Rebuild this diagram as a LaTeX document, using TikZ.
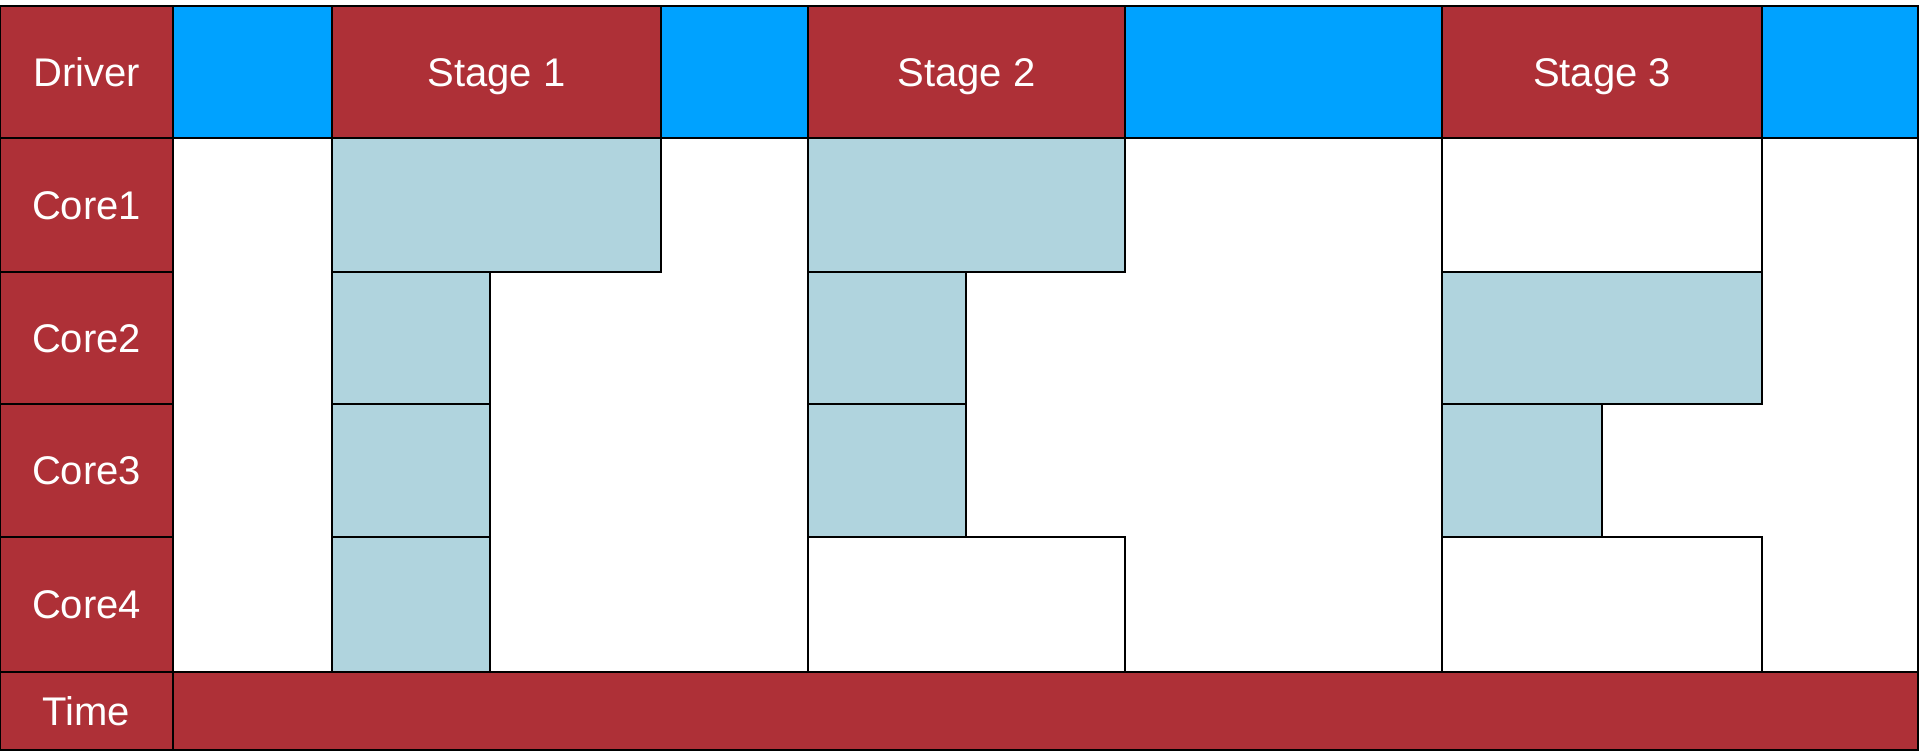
\documentclass[tikz,border=0pt]{standalone}
\usepackage{fontspec}
\setmainfont{Liberation Sans}
\definecolor{sred}{HTML}{AE3037}
\definecolor{sblue}{HTML}{00A2FF}
\definecolor{task}{HTML}{B0D4DE}
\newcommand\cellbox[7]{\node[#2,minimum width={#5-#3},minimum height={#6-#4}] (#1) at (#3,#4) {#7};}
\begin{document}
\begin{tikzpicture}[x=1pt,y=-1pt,
  cell/.style={draw=black,line width=2pt,inner sep=0pt,outer sep=0pt,anchor=north west,
    font=\fontsize{40}{46}\selectfont,text=white,text height=28.6pt,text depth=0pt},
  lab/.style={cell,fill=sred},
  drv/.style={cell,fill=sblue},
  busy/.style={cell,fill=task},
  idle/.style={cell,fill=white}]
\useasboundingbox (0,0) rectangle (1920,752);
\fill[white] (0,0) rectangle (1920,752);
% label column
\cellbox{ldriver}{lab}{0}{6}{173}{138}{Driver}
\cellbox{lcore1}{lab}{0}{138}{173}{272}{Core1}
\cellbox{lcore2}{lab}{0}{272}{173}{404}{Core2}
\cellbox{lcore3}{lab}{0}{404}{173}{537}{Core3}
\cellbox{lcore4}{lab}{0}{537}{173}{672}{Core4}
\cellbox{ltime}{lab}{0}{672}{173}{750}{Time}
% empty core area frame
\cellbox{area}{idle}{173}{138}{1918}{672}{}
% driver row
\cellbox{d0}{drv}{173}{6}{332}{138}{}
\cellbox{s1}{lab}{332}{6}{661}{138}{Stage 1}
\cellbox{d1}{drv}{661}{6}{808}{138}{}
\cellbox{s2}{lab}{808}{6}{1125}{138}{Stage 2}
\cellbox{d2}{drv}{1125}{6}{1442}{138}{}
\cellbox{s3}{lab}{1442}{6}{1762}{138}{Stage 3}
\cellbox{d3}{drv}{1762}{6}{1918}{138}{}
% stage 1 tasks
\cellbox{a1}{busy}{332}{138}{661}{272}{}
\cellbox{a2}{busy}{332}{272}{490}{404}{}
\cellbox{a3}{busy}{332}{404}{490}{537}{}
\cellbox{a4}{busy}{332}{537}{490}{672}{}
% stage 2 tasks
\cellbox{b1}{busy}{808}{138}{1125}{272}{}
\cellbox{b2}{busy}{808}{272}{966}{404}{}
\cellbox{b3}{busy}{808}{404}{966}{537}{}
\cellbox{b4}{idle}{808}{537}{1125}{672}{}
% stage 3 tasks
\cellbox{c1}{idle}{1442}{138}{1762}{272}{}
\cellbox{c2}{busy}{1442}{272}{1762}{404}{}
\cellbox{c3}{busy}{1442}{404}{1602}{537}{}
\cellbox{c4}{idle}{1442}{537}{1762}{672}{}
% time bar
\cellbox{tbar}{lab}{173}{672}{1918}{750}{}
\end{tikzpicture}
\end{document}
